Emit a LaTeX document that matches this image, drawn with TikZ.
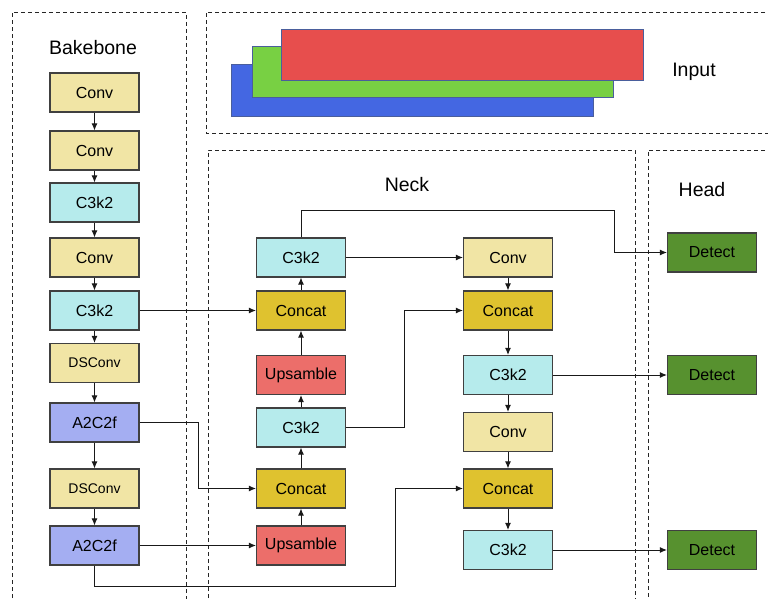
\documentclass[tikz,border=0pt]{standalone}
\usepackage{fontspec}
\setmainfont{Liberation Sans}
\usetikzlibrary{arrows.meta}
\definecolor{cconv}{HTML}{F1E5A5}
\definecolor{cc3k}{HTML}{B6EBEC}
\definecolor{ca2c}{HTML}{A4AEF2}
\definecolor{ccat}{HTML}{DFC22F}
\definecolor{cups}{HTML}{EC6E6A}
\definecolor{cdet}{HTML}{57912F}
\definecolor{cbord}{HTML}{404040}
\definecolor{cblue}{HTML}{4467E2}
\definecolor{cgreen}{HTML}{78D043}
\definecolor{cred}{HTML}{E74E4D}
\definecolor{cinb}{HTML}{4A5E9C}
\begin{document}
\begin{tikzpicture}[x=1pt,y=-1pt,
  blk/.style={draw=cbord,line width=1.1pt,minimum width=89pt,minimum height=39pt,inner sep=0pt,font=\fontsize{16}{18}\selectfont},
  conv/.style={blk,fill=cconv},
  dsconv/.style={blk,fill=cconv,font=\fontsize{14}{16}\selectfont},
  c3k/.style={blk,fill=cc3k},
  a2c/.style={blk,fill=ca2c},
  cat/.style={blk,fill=ccat},
  ups/.style={blk,fill=cups},
  det/.style={blk,fill=cdet},
  region/.style={draw=black!85,line width=0.9pt,dash pattern=on 4pt off 3pt},
  title/.style={font=\fontsize{19.5}{22}\selectfont},
  arr/.style={draw=black!90,line width=1pt,-{Latex[length=7pt,width=6pt]}},
  inrect/.style={draw=cinb,line width=1pt}]
\useasboundingbox (0,0) rectangle (768,599);
\clip (0,0) rectangle (768,599);
% regions
\draw[region] (12,640) -- (12,12) -- (186,12) -- (186,640);
\draw[region] (800,12) -- (206,12) -- (206,133) -- (800,133);
\draw[region] (208,640) -- (208,150) -- (635,150) -- (635,640);
\draw[region] (800,150) -- (648,150) -- (648,640);
% titles
\node[title] (tback) at (93,48) {Bakebone};
\node[title] (tin) at (694,72) {Input};
\node[title] (tneck) at (407,185) {Neck};
\node[title] (thead) at (702,190) {Head};
% input stack
\filldraw[inrect,fill=cblue] (231,65) rectangle (593,117);
\filldraw[inrect,fill=cgreen] (252,47) rectangle (613,98);
\filldraw[inrect,fill=cred] (281,30) rectangle (643,81);
% backbone
\node[conv] (b1) at (94.5,92.5) {Conv};
\node[conv] (b2) at (94.5,150.5) {Conv};
\node[c3k] (b3) at (94.5,202.5) {C3k2};
\node[conv] (b4) at (94.5,257.5) {Conv};
\node[c3k] (b5) at (94.5,310.5) {C3k2};
\node[dsconv] (b6) at (94.5,363) {DSConv};
\node[a2c] (b7) at (94.5,422.5) {A2C2f};
\node[dsconv] (b8) at (94.5,488.5) {DSConv};
\node[a2c] (b9) at (94.5,545.5) {A2C2f};
% neck col 1
\node[c3k] (n1) at (301,257.5) {C3k2};
\node[cat] (n2) at (301,310.5) {Concat};
\node[ups] (n3) at (301,375) {Upsamble};
\node[c3k] (n4) at (301,427.5) {C3k2};
\node[cat] (n5) at (301,488.5) {Concat};
\node[ups] (n6) at (301,545.5) {Upsamble};
% neck col 2
\node[conv] (m1) at (508,257.5) {Conv};
\node[cat] (m2) at (508,310.5) {Concat};
\node[c3k] (m3) at (508,375) {C3k2};
\node[conv] (m4) at (508,432) {Conv};
\node[cat] (m5) at (508,488.5) {Concat};
\node[c3k] (m6) at (508,550) {C3k2};
% head
\node[det] (h1) at (712,252.5) {Detect};
\node[det] (h2) at (712,375) {Detect};
\node[det] (h3) at (712,550) {Detect};
% backbone arrows
\foreach \a/\b in {b1/b2,b2/b3,b3/b4,b4/b5,b5/b6,b6/b7,b7/b8,b8/b9}
  \draw[arr] (\a) -- (\b);
% neck col1 upward
\foreach \a/\b in {n6/n5,n5/n4,n4/n3,n3/n2,n2/n1}
  \draw[arr] (\a) -- (\b);
% neck col2 downward
\foreach \a/\b in {m1/m2,m2/m3,m3/m4,m4/m5,m5/m6}
  \draw[arr] (\a) -- (\b);
% cross connections
\draw[arr] (b5) -- (n2);
\draw[arr] (b7.east) -- (198,422.5) -- (198,488.5) -- (n5.west);
\draw[arr] (b9) -- (n6);
\draw[arr] (b9.south) -- (94.5,586.5) -- (395.5,586.5) -- (395.5,488.5) -- (m5.west);
\draw[arr] (n1) -- (m1);
\draw[arr] (n1.north) -- (301,210.5) -- (614,210.5) -- (614,252.5) -- (h1.west);
\draw[arr] (n4.east) -- (404.5,427.5) -- (404.5,310.5) -- (m2.west);
\draw[arr] (m3) -- (h2);
\draw[arr] (m6) -- (h3);
\end{tikzpicture}
\end{document}
